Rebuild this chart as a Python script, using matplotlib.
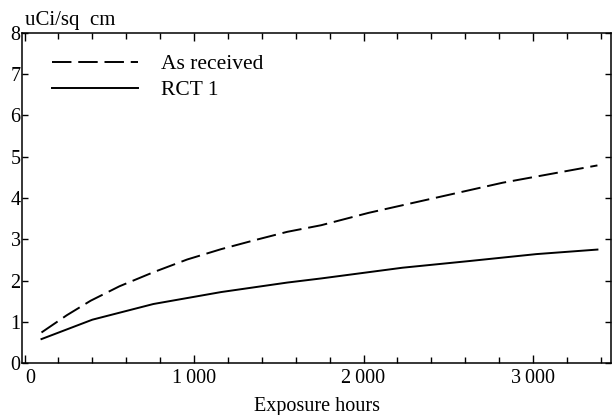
import numpy as np
import matplotlib.pyplot as plt
import matplotlib.transforms as mtransforms
from matplotlib.ticker import MultipleLocator, FuncFormatter

# ----- Data -----
hours_recv = [100, 250, 390, 560, 760, 960, 1160, 1360, 1550, 1750, 2030, 2420, 2820, 3380]
as_received = [0.74, 1.16, 1.51, 1.86, 2.20, 2.51, 2.76, 2.98, 3.18, 3.34, 3.64, 4.00, 4.37, 4.79]

hours_rct = [100, 400, 760, 1160, 1550, 1750, 2230, 2620, 3020, 3380]
rct1 = [0.58, 1.05, 1.43, 1.72, 1.95, 2.05, 2.31, 2.47, 2.64, 2.75]

plt.rcParams["font.family"] = ["Liberation Serif", "DejaVu Serif"]

W, H = 612, 415
fig = plt.figure(figsize=(W / 100, H / 100), dpi=100)
ax = fig.add_axes([22 / W, 1 - 363 / H, 589 / W, 330 / H])

ln, = ax.plot(hours_recv, as_received, color="black", lw=1.4, label="As received")
ln.set_dashes((10, 3.5))
ax.plot(hours_rct, rct1, color="black", lw=1.4, label="RCT 1")

ax.set_xlim(-15, 3460)
ax.set_ylim(0, 8)
ax.xaxis.set_major_locator(MultipleLocator(1000))
ax.xaxis.set_minor_locator(MultipleLocator(200))
ax.yaxis.set_major_locator(MultipleLocator(1))
ax.xaxis.set_major_formatter(FuncFormatter(
    lambda v, p: "0" if v == 0 else f"{int(v):,}".replace(",", "\u2009")))

ax.tick_params(axis="both", which="both", direction="in", top=True, right=True,
               labelsize=14.5, width=1.0)
ax.tick_params(axis="x", which="major", length=6, pad=4.5)
ax.tick_params(axis="x", which="minor", length=4)
ax.tick_params(axis="y", which="major", length=4, pad=1)
for s in ax.spines.values():
    s.set_linewidth(1.1)

# nudge the x "0" a bit right, away from the y "0"
fig.canvas.draw()
shift = mtransforms.ScaledTranslation(6 / 100, 0, fig.dpi_scale_trans)
for lab in ax.get_xticklabels():
    if lab.get_text() == "0":
        lab.set_transform(lab.get_transform() + shift)

ax.set_xlabel("Exposure hours", fontsize=14.5, labelpad=6)
fig.text(25 / W, 1 - 20 / H, "uCi/sq  cm", fontsize=15, va="center", ha="left")

ax.legend(loc="upper left", frameon=False, fontsize=15.5, handlelength=4.0,
          handletextpad=1.05, labelspacing=0.28, borderpad=0, borderaxespad=0,
          bbox_to_anchor=(52 / W, 1 - 54 / H), bbox_transform=fig.transFigure)

fig.savefig("out.png", dpi=100)
